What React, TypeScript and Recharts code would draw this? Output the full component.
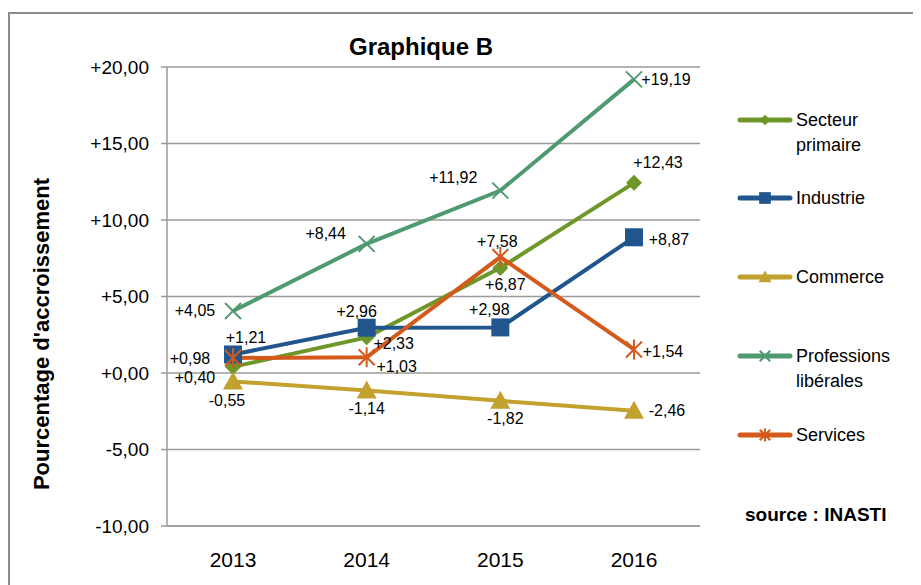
import React from 'react';
import { LineChart, Line, XAxis, YAxis, CartesianGrid } from 'recharts';

const years = ['2013', '2014', '2015', '2016'];
const secteurPrimaire = [0.4, 2.33, 6.87, 12.43];
const industrie = [1.21, 2.96, 2.98, 8.87];
const commerce = [-0.55, -1.14, -1.82, -2.46];
const professionsLiberales = [4.05, 8.44, 11.92, 19.19];
const services = [0.98, 1.03, 7.58, 1.54];
const yTicks = [-10, -5, 0, 5, 10, 15, 20];

type Shape = 'diamond' | 'square' | 'triangle' | 'x' | 'star';

interface SeriesDef {
  key: string;
  name: string[];
  color: string;
  shape: Shape;
  // label offsets (dx, dy) around each point
  offsets: [number, number][];
}

const series: SeriesDef[] = [
  { key: 'primaire', name: ['Secteur', 'primaire'], color: '#6F9628', shape: 'diamond',
    offsets: [[-38, 11], [27, 6], [5, 17], [24, -20]] },
  { key: 'industrie', name: ['Industrie'], color: '#21558D', shape: 'square',
    offsets: [[13, -17], [-10, -16], [-11, -18], [35, 2]] },
  { key: 'commerce', name: ['Commerce'], color: '#C2A12E', shape: 'triangle',
    offsets: [[-6, 19], [0, 18], [5, 18], [33, 0]] },
  { key: 'professions', name: ['Professions', 'libérales'], color: '#4F9A70', shape: 'x',
    offsets: [[-38, -1], [-41, -10], [-47, -13], [32, 0]] },
  { key: 'services', name: ['Services'], color: '#D35A1A', shape: 'star',
    offsets: [[-43, 0], [30, 9], [-3, -16], [29, 2]] },
];

const data = years.map((year, i) => ({
  year,
  primaire: secteurPrimaire[i],
  industrie: industrie[i],
  commerce: commerce[i],
  professions: professionsLiberales[i],
  services: services[i],
}));

const fmt = (v: number) => (v >= 0 ? '+' : '') + v.toFixed(2).replace('.', ',');

const FONT = '"Liberation Sans", Arial, sans-serif';

const Marker = ({ cx, cy, color, shape, scale = 1 }: { cx: number; cy: number; color: string; shape: Shape; scale?: number }) => {
  const k = scale;
  switch (shape) {
    case 'diamond':
      return <polygon points={`${cx},${cy - 8 * k} ${cx + 8 * k},${cy} ${cx},${cy + 8 * k} ${cx - 8 * k},${cy}`} fill={color} />;
    case 'square':
      return <rect x={cx - 9 * k} y={cy - 9 * k} width={18 * k} height={18 * k} fill={color} />;
    case 'triangle':
      return <polygon points={`${cx},${cy - 10 * k} ${cx + 10 * k},${cy + 8 * k} ${cx - 10 * k},${cy + 8 * k}`} fill={color} />;
    case 'x':
      return (
        <g stroke={color} strokeWidth={2}>
          <line x1={cx - 8 * k} y1={cy - 8 * k} x2={cx + 8 * k} y2={cy + 8 * k} />
          <line x1={cx - 8 * k} y1={cy + 8 * k} x2={cx + 8 * k} y2={cy - 8 * k} />
        </g>
      );
    default:
      return (
        <g stroke={color} strokeWidth={2}>
          <line x1={cx - 8 * k} y1={cy - 8 * k} x2={cx + 8 * k} y2={cy + 8 * k} />
          <line x1={cx - 8 * k} y1={cy + 8 * k} x2={cx + 8 * k} y2={cy - 8 * k} />
          <line x1={cx} y1={cy - 10 * k} x2={cx} y2={cy + 10 * k} />
        </g>
      );
  }
};

const App = () => {
  return (
    <div style={{ position: 'relative', width: 905, height: 577, overflow: 'hidden', fontFamily: FONT }}>
      <div style={{ position: 'absolute', left: 0, top: 4, width: 960, height: 640, borderTop: '2px solid #8c8c8c', borderLeft: '2px solid #8c8c8c' }} />
      <div style={{ position: 'absolute', left: 263, width: 300, top: 24, textAlign: 'center', fontWeight: 'bold', fontSize: 24, lineHeight: '30px' }}>
        Graphique B
      </div>
      <div style={{ position: 'absolute', left: 34, top: 326, width: 400, marginLeft: -200, marginTop: -14, textAlign: 'center', transform: 'rotate(-90deg)', fontWeight: 'bold', fontSize: 22, lineHeight: '28px', whiteSpace: 'nowrap' }}>
        Pourcentage d'accroissement
      </div>
      <LineChart width={905} height={577} data={data} margin={{ top: 59, right: 213, bottom: 0, left: 9 }} style={{ position: 'absolute', left: 0, top: 0 }}>
        <CartesianGrid vertical={false} stroke="#9a9a9a" strokeWidth={1.5} />
        <XAxis dataKey="year" height={59} padding={{ left: 66, right: 66 }} tickLine={false} axisLine={{ stroke: '#9a9a9a', strokeWidth: 1.5 }}
          tick={{ fill: '#000', fontSize: 21, fontFamily: FONT }} tickMargin={20} />
        <YAxis width={150} domain={[-10, 20]} ticks={yTicks} tickFormatter={fmt} allowDataOverflow
          tickSize={6} tickLine={{ stroke: '#9a9a9a', strokeWidth: 1.5 }} axisLine={{ stroke: '#9a9a9a', strokeWidth: 1.5 }}
          tick={{ fill: '#000', fontSize: 19, fontFamily: FONT }} tickMargin={12} />
        {series.map((s) => (
          <Line key={s.key} dataKey={s.key} stroke={s.color} strokeWidth={4} isAnimationActive={false}
            dot={(p: any) => <Marker key={`${s.key}-${p.index}`} cx={p.cx} cy={p.cy} color={s.color} shape={s.shape} />}
            activeDot={false}
            label={(p: any) => {
              const [dx, dy] = s.offsets[p.index] || [0, 0];
              return (
                <text key={`${s.key}-l-${p.index}`} x={p.x + dx} y={p.y + dy} textAnchor="middle" dominantBaseline="central"
                  fontSize={16} fontFamily={FONT} fill="#000">
                  {fmt(p.value)}
                </text>
              );
            }}
          />
        ))}
      </LineChart>
      <div style={{ position: 'absolute', left: 729, top: 0 }}>
        {series.map((s, i) => {
          const rowY = [112, 190, 269, 348, 427][i];
          return (
            <div key={s.key} style={{ position: 'absolute', left: 0, top: rowY - 12, width: 180 }}>
              <svg width={58} height={24} style={{ position: 'absolute', left: 0, top: 0 }}>
                <line x1={3} y1={12} x2={53} y2={12} stroke={s.color} strokeWidth={5} strokeLinecap="round" />
                <Marker cx={28} cy={12} color={s.color} shape={s.shape} scale={0.65} />
              </svg>
              <div style={{ position: 'absolute', left: 59, top: 0, fontSize: 18, lineHeight: '25px', whiteSpace: 'nowrap' }}>
                {s.name.map((n) => <div key={n}>{n}</div>)}
              </div>
            </div>
          );
        })}
      </div>
      <div style={{ position: 'absolute', left: 737, top: 495, fontWeight: 'bold', fontSize: 19, lineHeight: '24px', whiteSpace: 'nowrap' }}>
        source : INASTI
      </div>
    </div>
  );
};

export default App;
